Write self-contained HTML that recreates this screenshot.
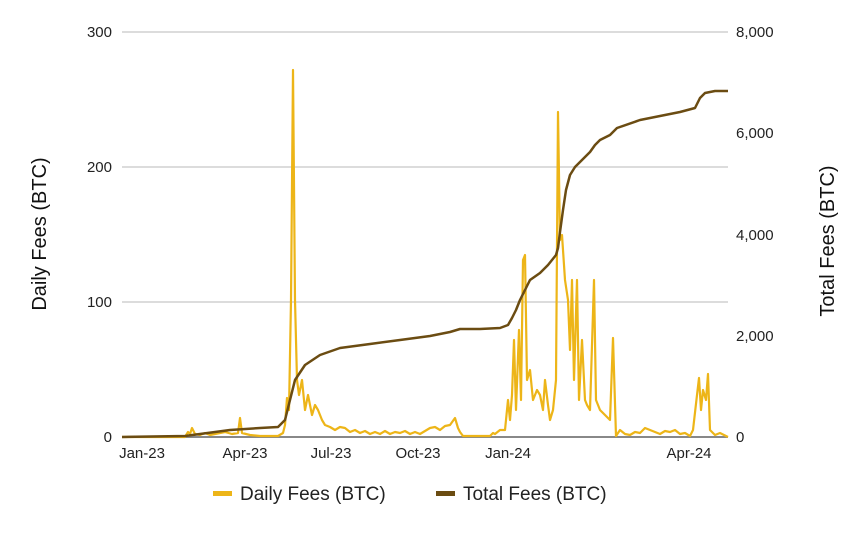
<!DOCTYPE html>
<html><head><meta charset="utf-8"><style>
body{margin:0;background:#fff;}
svg{display:block;font-family:"Liberation Sans",Arial,sans-serif;}
</style></head><body>
<svg width="865" height="534" viewBox="0 0 865 534">
<g stroke="#d0d0d0" stroke-width="1.5">
<line x1="122" y1="32" x2="728" y2="32"/>
<line x1="122" y1="167" x2="728" y2="167"/>
<line x1="122" y1="302" x2="728" y2="302"/>
</g>
<line x1="122" y1="437" x2="728" y2="437" stroke="#888" stroke-width="2"/>
<g font-size="15" fill="#222" text-anchor="end">
<text x="112" y="37">300</text><text x="112" y="172">200</text><text x="112" y="307">100</text><text x="112" y="442">0</text>
</g>
<g font-size="15" fill="#222" text-anchor="start">
<text x="736" y="37">8,000</text><text x="736" y="138">6,000</text><text x="736" y="240">4,000</text><text x="736" y="341">2,000</text><text x="736" y="442">0</text>
</g>
<g font-size="15" fill="#222" text-anchor="middle">
<text x="142" y="458">Jan-23</text><text x="245" y="458">Apr-23</text><text x="331" y="458">Jul-23</text><text x="418" y="458">Oct-23</text><text x="508" y="458">Jan-24</text><text x="689" y="458">Apr-24</text>
</g>
<text transform="translate(46,234) rotate(-90)" font-size="20" text-anchor="middle" fill="#111">Daily Fees (BTC)</text>
<text transform="translate(834,241) rotate(-90)" font-size="20" text-anchor="middle" fill="#111">Total Fees (BTC)</text>
<polyline fill="none" stroke="#edb518" stroke-width="2.2" stroke-linejoin="round" points="122,437 185,437 188,432 190,434 192,428 195,434 200,435 205,433 210,435 215,434 225,432 232,434 238,433 240,418 242,433 250,435 260,436 278,436 283,433 285,425 287,398 289,410 291,300 293,70 295,300 297,380 299,395 302,380 305,410 308,395 310,405 312,415 315,405 318,410 322,420 325,425 330,427 335,430 340,427 345,428 350,432 355,430 360,433 365,431 370,434 375,432 380,434 385,431 390,434 395,432 400,433 405,431 410,434 415,432 420,434 425,431 430,428 435,427 440,430 445,426 450,425 455,418 458,428 460,432 463,436 490,436 493,433 495,434 500,430 505,430 508,400 510,420 512,395 514,340 516,410 519,330 521,400 523,260 525,255 527,380 530,370 533,400 537,390 540,395 543,410 545,380 548,405 550,420 553,410 556,380 558,112 560,240 562,235 565,280 568,300 570,350 572,280 574,380 577,280 579,400 582,340 585,400 587,405 590,410 594,280 596,400 600,410 605,415 610,420 613,338 616,436 620,430 625,434 630,435 635,432 640,433 645,428 650,430 655,432 660,434 665,431 670,432 675,430 680,434 685,433 690,436 693,430 697,395 699,378 701,410 703,390 706,400 708,374 710,430 715,435 720,433 728,437"/>
<polyline fill="none" stroke="#6b4c12" stroke-width="2.5" stroke-linejoin="round" points="122,437 185,436 200,434 230,430 260,428 278,427 285,420 290,400 295,380 305,365 320,355 340,348 370,344 400,340 430,336 450,332 460,329 480,329 500,328 508,325 512,318 516,310 520,300 525,290 530,280 540,273 548,265 556,255 558,248 560,232 563,210 566,190 570,175 575,167 580,162 590,152 595,145 600,140 610,135 617,128 640,120 660,116 680,112 695,108 700,98 705,93 715,91 728,91"/>
<rect x="213" y="491" width="19" height="5" fill="#edb518"/>
<text x="240" y="500" font-size="19" fill="#222">Daily Fees (BTC)</text>
<rect x="436" y="491" width="19" height="5" fill="#6b4c12"/>
<text x="463" y="500" font-size="19" fill="#222">Total Fees (BTC)</text>
</svg>
</body></html>
